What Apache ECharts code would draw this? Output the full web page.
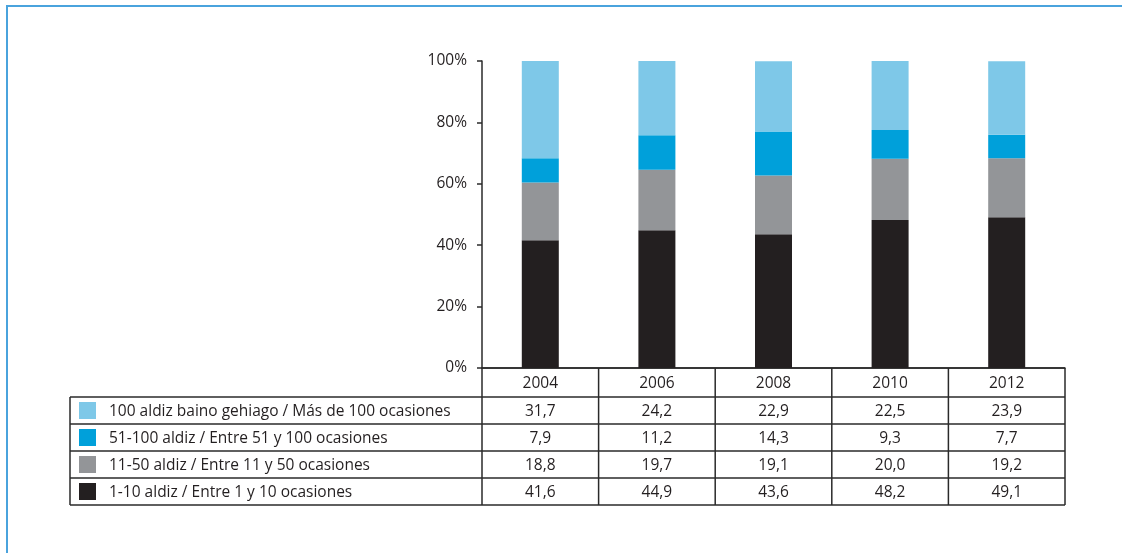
<!DOCTYPE html>
<html>
<head>
<meta charset="utf-8">
<script src="https://cdn.jsdelivr.net/npm/echarts@6/dist/echarts.min.js"></script>
<style>
  html, body { margin: 0; padding: 0; background: #ffffff; }
  #chart { width: 1122px; height: 553px; }
</style>
</head>
<body>
<div id="chart"></div>
<script>
// Survey years
const years = ['2004', '2006', '2008', '2010', '2012'];

// Share of respondents (%) by number of occasions
const occ1to10 = [41.6, 44.9, 43.6, 48.2, 49.1];
const occ11to50 = [18.8, 19.7, 19.1, 20.0, 19.2];
const occ51to100 = [7.9, 11.2, 14.3, 9.3, 7.7];
const occOver100 = [31.7, 24.2, 22.9, 22.5, 23.9];

// Series names (Basque / Spanish)
const names = [
  '1-10 aldiz / Entre 1 y 10 ocasiones',
  '11-50 aldiz / Entre 11 y 50 ocasiones',
  '51-100 aldiz / Entre 51 y 100 ocasiones',
  '100 aldiz baino gehiago / Más de 100 ocasiones'
];

const colors = ['#231f20', '#939598', '#00a0da', '#7ec8e8'];
const textColor = '#231f20';
const lineColor = '#2a2a2a';
const font = '"Open Sans", "Noto Sans", sans-serif';
const tableFont = '15.5px ' + font;

const seriesData = [occ1to10, occ11to50, occ51to100, occOver100];

const chart = echarts.init(document.getElementById('chart'), null, { renderer: 'canvas' });

const option = {
  animation: false,
  backgroundColor: '#ffffff',
  grid: { left: 482, right: 57, top: 61, bottom: 185 },
  xAxis: {
    type: 'category',
    data: years,
    axisLine: { show: true, lineStyle: { color: lineColor, width: 1.5 } },
    axisTick: { show: false },
    axisLabel: { show: false },
    splitLine: { show: false }
  },
  yAxis: {
    type: 'value',
    min: 0,
    max: 100,
    interval: 20,
    axisLine: { show: true, lineStyle: { color: lineColor, width: 1.5 } },
    axisTick: { show: true, length: 5, lineStyle: { color: lineColor, width: 1.5 } },
    axisLabel: {
      formatter: '{value}%',
      color: textColor,
      fontFamily: font,
      fontSize: 15.5,
      margin: 15
    },
    splitLine: { show: false }
  },
  series: seriesData.map((d, i) => ({
    name: names[i],
    type: 'bar',
    stack: 'total',
    data: d,
    barWidth: 37,
    itemStyle: { color: colors[i] }
  }))
};

chart.setOption(option);

// Data table under the plot: header row of years, then one row per series
function buildTable() {
  const fmt = v => v.toFixed(1).replace('.', ',');
  const yBase = chart.convertToPixel({ yAxisIndex: 0 }, 0);
  const c0 = chart.convertToPixel({ xAxisIndex: 0 }, 0);
  const c1 = chart.convertToPixel({ xAxisIndex: 0 }, 1);
  const band = c1 - c0;
  const tableLeft = 70;
  const axisX = c0 - band / 2;
  const tableRight = chart.convertToPixel({ xAxisIndex: 0 }, years.length - 1) + band / 2;
  const headerH = 29;
  const rowH = 27;
  const rowTops = [];
  for (let r = 0; r < 4; r++) rowTops.push(yBase + headerH + r * rowH);
  const tableBottom = yBase + headerH + 4 * rowH;

  const els = [];
  const ls = { stroke: lineColor, lineWidth: 1.5 };

  // horizontal lines
  els.push({ type: 'line', shape: { x1: axisX, y1: yBase, x2: tableRight, y2: yBase }, style: ls });
  rowTops.forEach(y => {
    els.push({ type: 'line', shape: { x1: tableLeft, y1: y, x2: tableRight, y2: y }, style: ls });
  });
  els.push({ type: 'line', shape: { x1: tableLeft, y1: tableBottom, x2: tableRight, y2: tableBottom }, style: ls });

  // vertical lines
  els.push({ type: 'line', shape: { x1: tableLeft, y1: rowTops[0], x2: tableLeft, y2: tableBottom }, style: ls });
  for (let i = 0; i <= years.length; i++) {
    const x = axisX + i * band;
    els.push({ type: 'line', shape: { x1: x, y1: yBase, x2: x, y2: tableBottom }, style: ls });
  }

  // header: years
  years.forEach((yr, i) => {
    const cx = chart.convertToPixel({ xAxisIndex: 0 }, i);
    els.push({
      type: 'text', x: cx, y: yBase + headerH / 2 + 1,
      style: { text: yr, fill: textColor, font: tableFont, align: 'center', verticalAlign: 'middle' }
    });
  });

  // rows: top row is the topmost stack segment
  for (let r = 0; r < 4; r++) {
    const s = 3 - r;
    const top = rowTops[r];
    els.push({
      type: 'rect', shape: { x: 79, y: top + 5, width: 17, height: 17 },
      style: { fill: colors[s] }
    });
    els.push({
      type: 'text', x: 109, y: top + rowH / 2 + 1,
      style: { text: names[s], fill: textColor, font: tableFont, align: 'left', verticalAlign: 'middle' }
    });
    seriesData[s].forEach((v, i) => {
      const cx = chart.convertToPixel({ xAxisIndex: 0 }, i);
      els.push({
        type: 'text', x: cx, y: top + rowH / 2 + 1,
        style: { text: fmt(v), fill: textColor, font: tableFont, align: 'center', verticalAlign: 'middle' }
      });
    });
  }

  // outer frame of the panel
  els.push({
    type: 'rect', shape: { x: 7, y: 6, width: 1120, height: 560 },
    style: { fill: 'none', stroke: '#4aa3dd', lineWidth: 2 }
  });

  chart.setOption({ graphic: els });
}

buildTable();
</script>
</body>
</html>
